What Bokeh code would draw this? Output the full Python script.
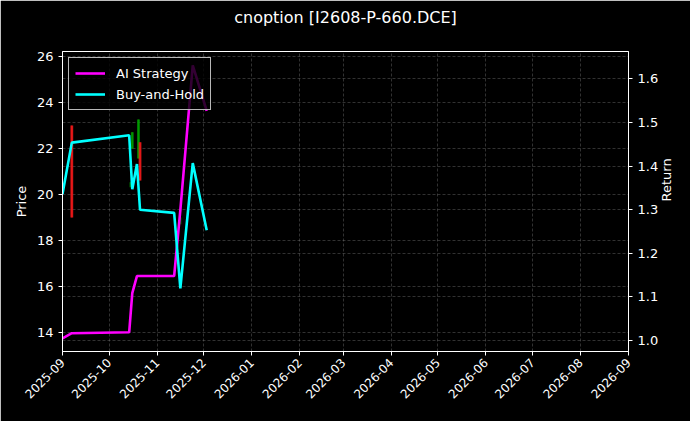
import math
import pandas as pd
from bokeh.plotting import figure
from bokeh.models import (Range1d, LinearAxis, DatetimeTickFormatter, MonthsTicker,
                          SingleIntervalTicker, PrintfTickFormatter, Legend, LegendItem,
                          ColumnDataSource, Grid, Title)
from bokeh.embed import file_html
from bokeh.resources import INLINE

# --- data ---
dates = pd.to_datetime(["2025-09-01", "2025-09-07", "2025-10-14", "2025-10-16", "2025-10-19",
                        "2025-10-21", "2025-11-12", "2025-11-16", "2025-11-24", "2025-12-03"])
ai_strategy = [1.005, 1.017, 1.019, 1.109, 1.148, 1.148, 1.148, 1.300, 1.631, 1.527]
buy_hold = [1.336, 1.454, 1.471, 1.347, 1.405, 1.300, 1.293, 1.120, 1.407, 1.253]

candle_dates = pd.to_datetime(["2025-09-07", "2025-10-15", "2025-10-16", "2025-10-20",
                               "2025-10-21", "2025-11-16"])
c_open = [23.0, 20.32, 21.99, 21.57, 22.27, 18.70]
c_high = [23.0, 20.53, 22.71, 23.26, 22.27, 19.00]
c_low = [19.0, 20.32, 21.99, 21.57, 20.61, 18.70]
c_close = [19.0, 20.53, 22.71, 23.26, 20.61, 19.00]

title = "cnoption [I2608-P-660.DCE]"
FONT = "DejaVu Sans"
DAY = 86400000

up = [c >= o for o, c in zip(c_open, c_close)]
candles = ColumnDataSource(dict(
    x=candle_dates, top=[max(o, c) for o, c in zip(c_open, c_close)],
    bottom=[min(o, c) for o, c in zip(c_open, c_close)],
    high=c_high, low=c_low,
    color=["#00a000" if u else "#ff1a1a" for u in up],
    alpha=[0.8, 0.5, 0.8, 0.8, 0.8, 0.35],
))

p = figure(width=690, height=421, output_backend="svg", toolbar_location=None,
           x_axis_type="datetime",
           x_range=Range1d(pd.Timestamp("2025-09-01"), pd.Timestamp("2026-09-01")),
           y_range=Range1d(13.17, 26.22),
           min_border_left=62, min_border_right=62, min_border_top=51, min_border_bottom=70,
           background_fill_color="black", border_fill_color="black",
           outline_line_color="white", title=title)
p.extra_y_ranges = {"ret": Range1d(0.975, 1.663)}

p.title.text_color = "white"
p.title.text_font = FONT
p.title.text_font_size = "16px"
p.title.text_font_style = "normal"
p.title.align = "center"
p.title.standoff = 0

# empty spacer between the title and the plot frame
p.add_layout(Title(text=" ", text_font_size="1px", standoff=22), "above")

# candles
p.segment(x0="x", y0="low", x1="x", y1="high", color="color", alpha="alpha",
          line_width=1, source=candles)
p.vbar(x="x", top="top", bottom="bottom", width=1.8 * DAY, fill_color="color",
       line_color=None, fill_alpha="alpha", source=candles)

# returns
r_ai = p.line(dates, ai_strategy, color="#ff00ff", line_width=2.6, y_range_name="ret")
r_bh = p.line(dates, buy_hold, color="#00ffff", line_width=2.6, y_range_name="ret")

# axes
ax_r = LinearAxis(y_range_name="ret", axis_label="Return",
                  ticker=SingleIntervalTicker(interval=0.1),
                  formatter=PrintfTickFormatter(format="%.1f"))
ax_r.axis_label_orientation = math.pi / 2
p.add_layout(ax_r, "right")

p.xaxis.ticker = MonthsTicker(months=list(range(1, 13)))
p.xaxis.formatter = DatetimeTickFormatter(months="%Y-%m", days="%Y-%m", years="%Y-%m")
p.xaxis.major_label_orientation = math.pi / 4
p.yaxis[0].ticker = SingleIntervalTicker(interval=2)
p.yaxis[0].axis_label = "Price"

for ax in p.xaxis + p.yaxis:
    ax.axis_line_color = "white"
    ax.major_tick_line_color = "white"
    ax.major_tick_out = 4
    ax.major_tick_in = 0
    ax.minor_tick_line_color = None
    ax.major_label_text_color = "white"
    ax.major_label_text_font = FONT
    ax.major_label_text_font_size = "13px"
    ax.axis_label_text_color = "white"
    ax.axis_label_text_font = FONT
    ax.axis_label_text_font_size = "13px"
    ax.axis_label_text_font_style = "normal"
p.xaxis.major_label_text_font_size = "12px"

# grids (both y axes)
for g in p.grid:
    g.grid_line_color = "#8a8a8a"
    g.grid_line_alpha = 0.6
    g.grid_line_dash = "3 2"
    g.grid_line_width = 0.6
p.xgrid.ticker = p.xaxis[0].ticker
p.ygrid.ticker = p.yaxis[0].ticker
g_r = Grid(dimension=1, ticker=ax_r.ticker, y_range_name="ret", grid_line_color="#8a8a8a",
           grid_line_alpha=0.6, grid_line_dash="3 2", grid_line_width=0.6)
p.add_layout(g_r)

legend = Legend(items=[LegendItem(label="AI Strategy", renderers=[r_ai]),
                       LegendItem(label="Buy-and-Hold", renderers=[r_bh])],
                location="top_left", margin=6, padding=6, spacing=3,
                glyph_width=30, glyph_height=18, label_standoff=11,
                label_text_color="white", label_text_font=FONT, label_text_font_size="13px",
                background_fill_color="black", background_fill_alpha=0.8,
                border_line_color="#cccccc", border_line_alpha=0.9)
p.add_layout(legend, "center")

open("out.html", "w").write(file_html(p, INLINE))
